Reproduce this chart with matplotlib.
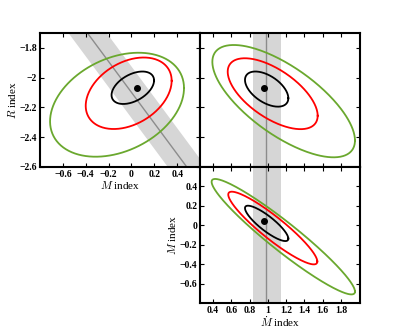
import matplotlib.pyplot as plt
import numpy as np

plt.rcParams['font.family'] = ['Liberation Serif', 'DejaVu Serif']
plt.rcParams['mathtext.fontset'] = 'cm'

# best-fit point
m_best = 0.045
r_best = -2.072
mdot_best = 0.961

# contour ellipses: centre x, centre y, half-extent x, half-extent y, correlation
# order: 1, 2, 3 sigma (black, red, green)
mr_cx = [0.012, -0.024, -0.126]
mr_cy = [-2.068, -2.105, -2.182]
mr_sx = [0.186, 0.376, 0.586]
mr_sy = [0.109, 0.240, 0.349]
mr_rho = [0.45, 0.35, 0.32]

mdr_cx = [0.987, 1.053, 1.173]
mdr_cy = [-2.077, -2.108, -2.158]
mdr_sx = [0.237, 0.492, 0.780]
mdr_sy = [0.118, 0.238, 0.377]
mdr_rho = [-0.52, -0.62, -0.70]

mdm_cx = [0.987, 1.054, 1.169]
mdm_cy = [0.020, -0.028, -0.117]
mdm_sx = [0.237, 0.487, 0.784]
mdm_sy = [0.182, 0.374, 0.594]
mdm_rho = [-0.86, -0.92, -0.95]

# external constraints (gray bands)
mdot_band = (0.841, 0.985, 1.144)      # low, centre, high
mr_line_a, mr_line_b = -2.029, -0.9667  # M = a + b*R
mr_band_half = 0.167

colors = ['black', '#ff0000', '#6aa82e']

m_ticks = [-0.6, -0.4, -0.2, 0, 0.2, 0.4]
r_ticks = [-1.8, -2, -2.2, -2.4, -2.6]
mdot_ticks = [0.4, 0.6, 0.8, 1, 1.2, 1.4, 1.6, 1.8]
m_ticks_v = [0.4, 0.2, 0, -0.2, -0.4, -0.6]

m_lim = (-0.8, 0.6)
r_lim = (-2.6, -1.7)
mdot_lim = (0.258, 2.008)


def ellipse(cx, cy, sx, sy, rho):
    t = np.linspace(0, 2 * np.pi, 300)
    x = cx + sx * np.cos(t)
    y = cy + sy * (rho * np.cos(t) + np.sqrt(1 - rho ** 2) * np.sin(t))
    return x, y


def fmt(v):
    s = ('%g' % v)
    return s.replace('-', '\u2212')


def style(ax):
    ax.tick_params(direction='in', top=True, right=True, length=3, width=0.8,
                   labelsize=7, pad=2)
    for s in ax.spines.values():
        s.set_linewidth(1.5)
    for lab in ax.get_xticklabels() + ax.get_yticklabels():
        lab.set_fontweight('bold')


fig = plt.figure(figsize=(4, 3.36), dpi=100)
ax1 = fig.add_axes([0.1, 0.503, 0.4, 0.399])
ax2 = fig.add_axes([0.5, 0.503, 0.4, 0.399])
ax3 = fig.add_axes([0.5, 0.098, 0.4, 0.405])

# panel 1: R vs M
rr = np.linspace(r_lim[0], r_lim[1], 50)
mc = mr_line_a + mr_line_b * rr
ax1.fill_betweenx(rr, mc - mr_band_half, mc + mr_band_half, color='#d6d6d6', lw=0)
ax1.plot(mc, rr, color='#8c8c8c', lw=1)
for i in range(3):
    x, y = ellipse(mr_cx[i], mr_cy[i], mr_sx[i], mr_sy[i], mr_rho[i])
    ax1.plot(x, y, color=colors[i], lw=1.3)
ax1.plot(m_best, r_best, 'o', color='black', ms=4)
ax1.set_xlim(m_lim)
ax1.set_ylim(r_lim)
ax1.set_xticks(m_ticks)
ax1.set_xticklabels([fmt(v) for v in m_ticks])
ax1.set_yticks(r_ticks)
ax1.set_yticklabels([fmt(v) for v in r_ticks])
ax1.set_xlabel(r'$M$ index', fontsize=8, labelpad=0)
ax1.set_ylabel(r'$R$ index', fontsize=8, labelpad=1)

# panel 2: R vs Mdot
ax2.axvspan(mdot_band[0], mdot_band[2], color='#d6d6d6', lw=0)
ax2.axvline(mdot_band[1], color='#8c8c8c', lw=1)
for i in range(3):
    x, y = ellipse(mdr_cx[i], mdr_cy[i], mdr_sx[i], mdr_sy[i], mdr_rho[i])
    ax2.plot(x, y, color=colors[i], lw=1.3)
ax2.plot(mdot_best, r_best, 'o', color='black', ms=4)
ax2.set_xlim(mdot_lim)
ax2.set_ylim(r_lim)
ax2.set_xticks(mdot_ticks)
ax2.set_yticks(r_ticks)
ax2.set_xticklabels([])
ax2.set_yticklabels([])

# panel 3: M vs Mdot
ax3.axvspan(mdot_band[0], mdot_band[2], color='#d6d6d6', lw=0)
ax3.axvline(mdot_band[1], color='#8c8c8c', lw=1)
for i in range(3):
    x, y = ellipse(mdm_cx[i], mdm_cy[i], mdm_sx[i], mdm_sy[i], mdm_rho[i])
    ax3.plot(x, y, color=colors[i], lw=1.3)
ax3.plot(mdot_best, m_best, 'o', color='black', ms=4)
ax3.set_xlim(mdot_lim)
ax3.set_ylim(m_lim)
ax3.set_xticks(mdot_ticks)
ax3.set_xticklabels([fmt(v) for v in mdot_ticks])
ax3.set_yticks(m_ticks_v)
ax3.set_yticklabels([fmt(v) for v in m_ticks_v])
ax3.set_xlabel(r'$\dot{M}$ index', fontsize=8, labelpad=0)
ax3.set_ylabel(r'$M$ index', fontsize=8, labelpad=1)

for ax in (ax1, ax2, ax3):
    style(ax)

fig.savefig('out.png', dpi=100)
